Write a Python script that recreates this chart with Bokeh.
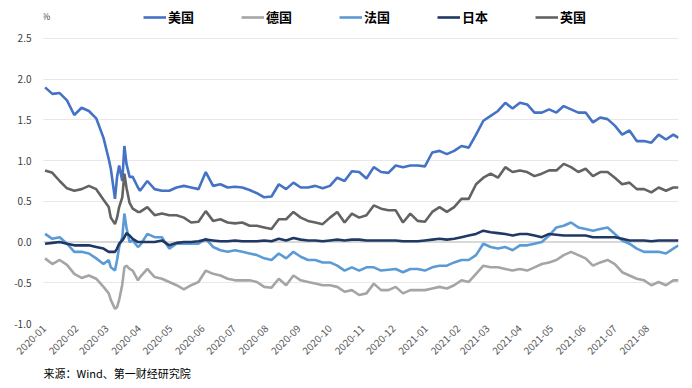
import math
import pandas as pd
from bokeh.plotting import figure
from bokeh.models import (Range1d, FixedTicker, MonthsTicker, DatetimeTickFormatter, Title,
                          Legend, LegendItem, Label, Span, ColumnDataSource, NumeralTickFormatter)
from bokeh.embed import file_html
from bokeh.resources import INLINE

# ---- dates (weekly, denser in March 2020) ----
dates_a = list(pd.date_range("2020-01-02", "2020-02-27", freq="7D"))
dates_march = [pd.Timestamp(d) for d in ["2020-03-03", "2020-03-05", "2020-03-09", "2020-03-11",
                                         "2020-03-13", "2020-03-16", "2020-03-18", "2020-03-20",
                                         "2020-03-23", "2020-03-26", "2020-03-31"]]
dates_b = list(pd.date_range("2020-04-02", "2021-08-26", freq="7D"))
dates_end = [pd.Timestamp("2021-08-31")]
dates = dates_a + dates_march + dates_b + dates_end

series_names = ["美国", "德国", "法国", "日本", "英国"]

us = [1.90, 1.82, 1.83, 1.74, 1.56, 1.65, 1.61, 1.52, 1.28,
      1.02, 0.90, 0.53, 0.80, 0.94, 0.75, 1.18, 0.96, 0.80, 0.80, 0.67,
      0.63, 0.75, 0.65, 0.63, 0.63, 0.67, 0.69, 0.67, 0.65, 0.86, 0.69, 0.71, 0.67, 0.68, 0.67, 0.64, 0.60,
      0.55, 0.56, 0.71, 0.65, 0.73, 0.67, 0.67, 0.69, 0.66, 0.69, 0.79, 0.75, 0.87, 0.86, 0.78, 0.92,
      0.86, 0.85, 0.94, 0.92, 0.94, 0.94, 0.93, 1.10, 1.12, 1.08, 1.12, 1.18, 1.16,
      1.32, 1.49, 1.55, 1.61, 1.71, 1.64, 1.71, 1.69, 1.59, 1.59, 1.63, 1.59, 1.67, 1.63, 1.59, 1.59,
      1.47, 1.53, 1.51, 1.43, 1.32, 1.37, 1.24, 1.24, 1.22, 1.32, 1.26, 1.32,
      1.28]

de = [-0.20, -0.27, -0.22, -0.28, -0.39, -0.44, -0.41, -0.45, -0.55,
      -0.63, -0.71, -0.82, -0.80, -0.71, -0.52, -0.31, -0.29, -0.33, -0.35, -0.47,
      -0.43, -0.33, -0.43, -0.45, -0.49, -0.53, -0.58, -0.53, -0.49, -0.35, -0.39, -0.41, -0.45, -0.47, -0.47, -0.47, -0.49,
      -0.55, -0.56, -0.45, -0.53, -0.41, -0.47, -0.49, -0.51, -0.53, -0.53, -0.55, -0.61, -0.59, -0.65, -0.63,
      -0.51, -0.59, -0.59, -0.55, -0.63, -0.59, -0.59, -0.59, -0.57, -0.55, -0.57, -0.53, -0.47, -0.49,
      -0.39, -0.29, -0.31, -0.31, -0.33, -0.35, -0.33, -0.35, -0.31, -0.27, -0.25, -0.22, -0.16, -0.12,
      -0.16, -0.20, -0.29, -0.25, -0.22, -0.27, -0.37, -0.41, -0.45, -0.47, -0.53, -0.49, -0.53, -0.47,
      -0.47]

fr = [0.10, 0.04, 0.06, -0.02, -0.12, -0.12, -0.14, -0.20, -0.27,
      -0.22, -0.31, -0.35, -0.22, -0.06, 0.06, 0.35, 0.18, 0.00, 0.02, -0.06,
      -0.04, 0.10, 0.06, 0.06, -0.08, -0.02, -0.02, -0.02, -0.02, 0.04, -0.06, -0.10, -0.12, -0.10, -0.12, -0.14, -0.16,
      -0.20, -0.22, -0.14, -0.20, -0.12, -0.18, -0.22, -0.22, -0.25, -0.25, -0.29, -0.35, -0.31, -0.35, -0.31,
      -0.31, -0.35, -0.34, -0.33, -0.37, -0.33, -0.33, -0.35, -0.31, -0.29, -0.29, -0.25, -0.22, -0.22,
      -0.16, -0.02, -0.06, -0.08, -0.06, -0.10, -0.04, -0.04, -0.02, 0.00, 0.08, 0.18, 0.20, 0.24,
      0.18, 0.16, 0.14, 0.16, 0.18, 0.10, 0.02, -0.02, -0.08, -0.12, -0.12, -0.12, -0.14, -0.08,
      -0.04]

jp = [-0.02, -0.01, 0.00, -0.02, -0.04, -0.04, -0.04, -0.06, -0.08,
      -0.12, -0.12, -0.12, -0.08, -0.02, 0.02, 0.06, 0.11, 0.08, 0.04, 0.00,
      0.00, 0.00, 0.00, 0.02, -0.04, -0.01, 0.00, 0.00, 0.01, 0.03, 0.02, 0.01, 0.01, 0.02, 0.01, 0.01, 0.01,
      0.02, 0.01, 0.04, 0.02, 0.05, 0.03, 0.02, 0.02, 0.01, 0.02, 0.03, 0.02, 0.03, 0.03, 0.02,
      0.02, 0.02, 0.02, 0.02, 0.01, 0.01, 0.01, 0.02, 0.03, 0.04, 0.03, 0.04, 0.06, 0.08,
      0.10, 0.14, 0.12, 0.11, 0.10, 0.08, 0.10, 0.10, 0.08, 0.06, 0.10, 0.09, 0.08, 0.08,
      0.08, 0.08, 0.06, 0.06, 0.06, 0.06, 0.04, 0.02, 0.02, 0.02, 0.01, 0.02, 0.02, 0.02,
      0.02]

uk = [0.88, 0.85, 0.75, 0.66, 0.63, 0.65, 0.69, 0.65, 0.52,
      0.43, 0.30, 0.22, 0.30, 0.43, 0.55, 0.84, 0.67, 0.48, 0.41, 0.37,
      0.37, 0.43, 0.33, 0.35, 0.33, 0.33, 0.30, 0.24, 0.25, 0.38, 0.26, 0.28, 0.24, 0.23, 0.24, 0.20, 0.20,
      0.18, 0.16, 0.28, 0.28, 0.37, 0.30, 0.26, 0.24, 0.22, 0.30, 0.37, 0.24, 0.35, 0.30, 0.33,
      0.45, 0.41, 0.39, 0.39, 0.24, 0.35, 0.26, 0.25, 0.37, 0.43, 0.37, 0.43, 0.53, 0.53,
      0.71, 0.79, 0.84, 0.79, 0.92, 0.86, 0.88, 0.86, 0.81, 0.84, 0.88, 0.88, 0.96, 0.92,
      0.86, 0.90, 0.81, 0.86, 0.86, 0.79, 0.71, 0.73, 0.65, 0.65, 0.61, 0.67, 0.63, 0.67,
      0.67]

y_ticks = [-1.0, -0.5, 0.0, 0.5, 1.0, 1.5, 2.0, 2.5]
colors = ["#4472C4", "#A5A5A5", "#5B9BD5", "#203864", "#636363"]
source_text = "来源：Wind、第一财经研究院"
unit_text = "%"

src = ColumnDataSource(dict(date=dates, us=us, de=de, fr=fr, jp=jp, uk=uk))

p = figure(width=692, height=388, x_axis_type="datetime", output_backend="svg",
           toolbar_location=None,
           x_range=Range1d(pd.Timestamp("2019-12-31 12:00"), pd.Timestamp("2021-08-31")),
           y_range=Range1d(-1.0, 2.942),
           min_border_left=43, min_border_right=14, min_border_top=2, min_border_bottom=65)
p.outline_line_color = None
p.background_fill_color = "white"

# grid
p.xgrid.grid_line_color = None
p.ygrid.grid_line_color = "#D0D0D0"
p.ygrid.grid_line_dash = "1 1"
p.ygrid.grid_line_width = 1
p.yaxis.ticker = FixedTicker(ticks=y_ticks)

zero = Span(location=0, dimension="width", line_color="#D9D9D9", line_width=2, level="underlay")
p.add_layout(zero)

# axes
p.yaxis.formatter = NumeralTickFormatter(format="0.0")
p.yaxis.axis_line_color = None
p.yaxis.major_tick_line_color = None
p.yaxis.minor_tick_line_color = None
p.yaxis.major_tick_out = 0
p.yaxis.major_tick_in = 0
p.yaxis.major_label_standoff = 12
p.yaxis.major_label_text_font = "Noto Sans CJK SC"
p.yaxis.major_label_text_font_size = "10px"
p.yaxis.major_label_text_color = "#404040"

p.xaxis.ticker = MonthsTicker(months=list(range(1, 13)))
p.xaxis.formatter = DatetimeTickFormatter(months="%Y-%m", days="%Y-%m", years="%Y-%m")
p.xaxis.major_label_orientation = math.pi / 4
p.xaxis.axis_line_color = None
p.xaxis.major_tick_line_color = None
p.xaxis.minor_tick_line_color = None
p.xaxis.major_tick_out = 0
p.xaxis.major_tick_in = 0
p.xaxis.major_label_standoff = 3
p.xaxis.major_label_text_font = "Noto Sans CJK SC"
p.xaxis.major_label_text_font_size = "10px"
p.xaxis.major_label_text_color = "#595959"

renderers = []
for col, c in zip(["us", "de", "fr", "jp", "uk"], colors):
    r = p.line("date", col, source=src, line_color=c, line_width=2.6)
    renderers.append(r)

legend = Legend(items=[LegendItem(label=n, renderers=[r]) for n, r in zip(series_names, renderers)],
                orientation="horizontal", location=(100, 297),
                glyph_width=23, glyph_height=16, label_height=16, label_standoff=2, spacing=47,
                padding=0, margin=0, border_line_color=None, background_fill_alpha=0,
                label_text_font="Noto Sans CJK SC", label_text_font_style="bold",
                label_text_font_size="13px", label_text_color="black")
p.add_layout(legend)

x0 = pd.Timestamp("2020-01-01").timestamp() * 1000
p.add_layout(Label(x=x0, y=2.5, x_offset=-2, y_offset=22, text=unit_text,
                   text_font="Noto Sans CJK SC", text_font_size="9px", text_color="#404040",
                   text_baseline="middle"))

p.add_layout(Title(text=source_text, align="left", text_font="Noto Sans CJK SC",
                   text_font_size="11px", text_font_style="normal", text_color="black",
                   standoff=2), "below")

open("out.html", "w").write(file_html(p, INLINE))
